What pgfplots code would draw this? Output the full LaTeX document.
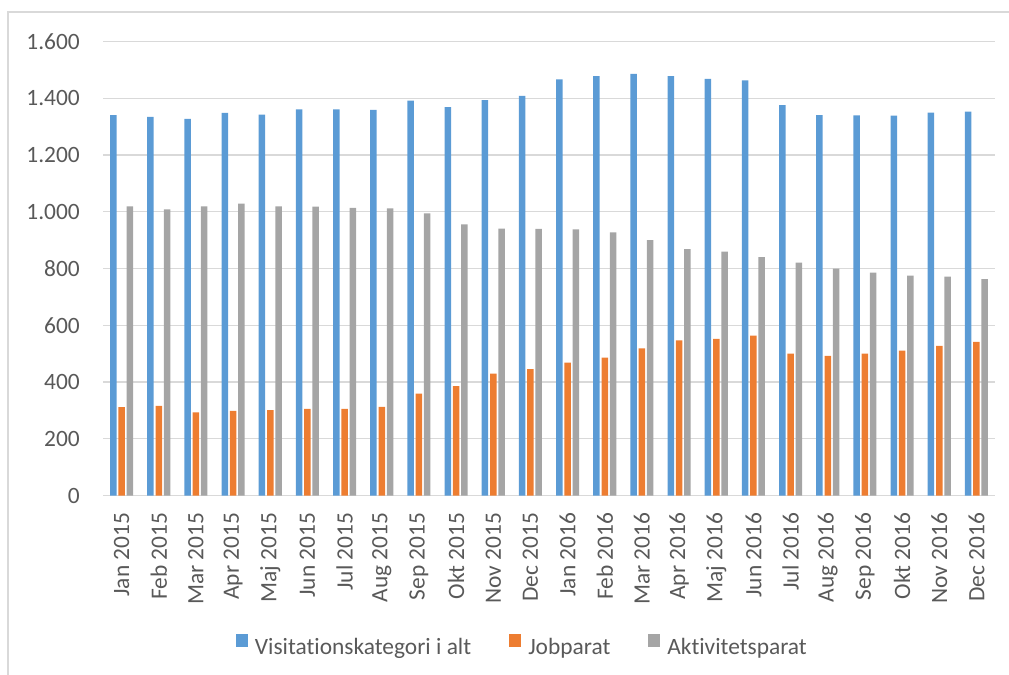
\documentclass[border=0pt]{standalone}
\usepackage{fontspec}
\setmainfont{Carlito}[Ligatures={NoCommon}]
\usepackage{pgfplots}
\usepackage{pgfplotstable}
\pgfplotsset{compat=1.18}

\definecolor{cBlue}{HTML}{5B9BD5}
\definecolor{cOrange}{HTML}{ED7D31}
\definecolor{cGray}{HTML}{A5A5A5}
\definecolor{cGrid}{HTML}{D9D9D9}
\definecolor{cText}{HTML}{595959}

% x = month index, visit = Visitationskategori i alt, job = Jobparat, akt = Aktivitetsparat
\pgfplotstableread{
x visit job akt
0  1341 312 1019
1  1335 316 1009
2  1328 293 1019
3  1349 299 1029
4  1343 301 1019
5  1361 306 1018
6  1361 306 1014
7  1359 313 1012
8  1392 359 995
9  1369 386 956
10 1394 430 941
11 1409 446 940
12 1467 469 938
13 1478 486 928
14 1486 519 900
15 1478 547 869
16 1469 552 860
17 1463 564 840
18 1376 500 821
19 1341 492 800
20 1340 500 786
21 1339 511 775
22 1350 528 772
23 1353 542 763
}\datatable

\begin{document}
\begin{tikzpicture}[x=1bp,y=1bp]
\path[use as bounding box] (0,0) rectangle (1009,675);
\draw[cGrid, line width=1.3bp] (8,-5) -- (8,663) -- (1015,663);
\begin{axis}[
  at={(103bp,179.4bp)}, anchor=south west,
  width=892bp, height=454bp, scale only axis,
  ybar=1.8bp, bar width=6.5bp,
  xmin=-0.5, xmax=23.5,
  ymin=0, ymax=1600,
  ytick={0,200,...,1600},
  xtick={0,...,23},
  xticklabels={Jan 2015,Feb 2015,Mar 2015,Apr 2015,Maj 2015,Jun 2015,Jul 2015,Aug 2015,Sep 2015,Okt 2015,Nov 2015,Dec 2015,Jan 2016,Feb 2016,Mar 2016,Apr 2016,Maj 2016,Jun 2016,Jul 2016,Aug 2016,Sep 2016,Okt 2016,Nov 2016,Dec 2016},
  /pgf/number format/.cd, 1000 sep={.}, assume math mode=true, /pgfplots/.cd,
  scaled y ticks=false,
  axis x line*=bottom, axis y line*=left,
  y axis line style={draw=none},
  x axis line style={draw=cGrid, line width=1.3bp},
  major tick length=0pt,
  tick style={draw=none},
  ymajorgrids, grid style={draw=cGrid, line width=1.3bp},
  ticklabel style={font=\fontsize{23.5}{28}\selectfont, text=cText, inner sep=0pt},
  yticklabel style={anchor=east},
  yticklabel shift=23bp,
  xticklabel style={rotate=90, anchor=east},
  xticklabel shift=17bp,
  legend columns=3,
  legend style={at={(0.469,-0.329)}, anchor=center, draw=none, fill=none,
    font=\fontsize{23.5}{28}\selectfont, text=cText, inner sep=0pt,
    nodes={inner sep=0pt},
    /tikz/every odd column/.append style={column sep=7bp},
    /tikz/every even column/.append style={column sep=38bp}},
  legend image code/.code={\fill[#1] (0bp,1bp) rectangle (12bp,14bp);},
]
\addplot[draw=none, fill=cBlue] table[x=x, y=visit] {\datatable};
\addplot[draw=none, fill=cOrange] table[x=x, y=job] {\datatable};
\addplot[draw=none, fill=cGray] table[x=x, y=akt] {\datatable};
\legend{Visitationskategori i alt, Jobparat, Aktivitetsparat}
\end{axis}
\end{tikzpicture}
\end{document}
